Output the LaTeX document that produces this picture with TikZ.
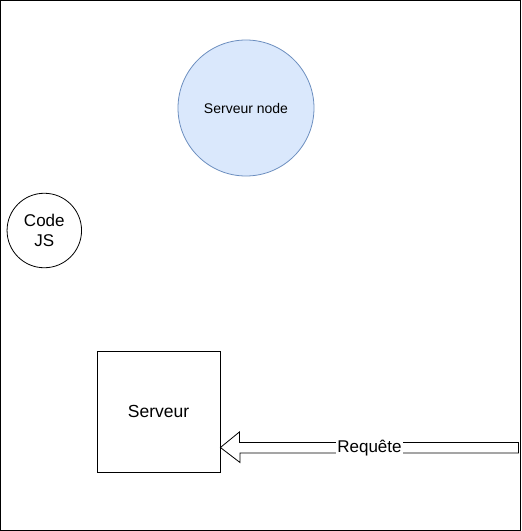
\documentclass[tikz,border=0pt]{standalone}
\usepackage{fontspec}
\setmainfont{Liberation Sans}
\definecolor{nodefill}{HTML}{DAE8FC}
\definecolor{nodeline}{HTML}{6C8EBF}
\begin{document}
\begin{tikzpicture}[x=1pt,y=-1pt,
  frame/.style={draw=black,line width=1pt},
  circ/.style={circle,draw=black,line width=0.8pt,inner sep=0pt,align=center},
  boxnode/.style={draw=black,line width=0.8pt,inner sep=0pt},
  blockarrow/.style={draw=black,fill=white,line width=0.8pt,line join=miter}]
\useasboundingbox (0,0) rectangle (522,531);
\draw[frame] (0.5,0.5) rectangle (520,530);
\node[circ,draw=nodeline,fill=nodefill,minimum size=136pt,font=\fontsize{14}{16}\selectfont] (srvnode) at (246,108) {Serveur node};
\node[circ,minimum size=74.5pt,font=\fontsize{17}{20}\selectfont] (codejs) at (44.3,230.5) {Code\\JS};
\node[boxnode,minimum width=123pt,minimum height=121pt,font=\fontsize{17.5}{20}\selectfont] (serveur) at (158.5,411.5) {Serveur};
\coordinate (tip) at (serveur.east |- 0,447.5);
\path[blockarrow] (tip) -- ++(19,-15.5) -- ++(0,10.5) -- (518.5,442.5) -- (518.5,453) -- (240,453) -- ++(0,9.5) -- cycle;
\node[fill=white,inner xsep=1pt,inner ysep=0.5pt,font=\fontsize{17}{19}\selectfont] (req) at (369.5,448) {Requête};
\end{tikzpicture}
\end{document}
